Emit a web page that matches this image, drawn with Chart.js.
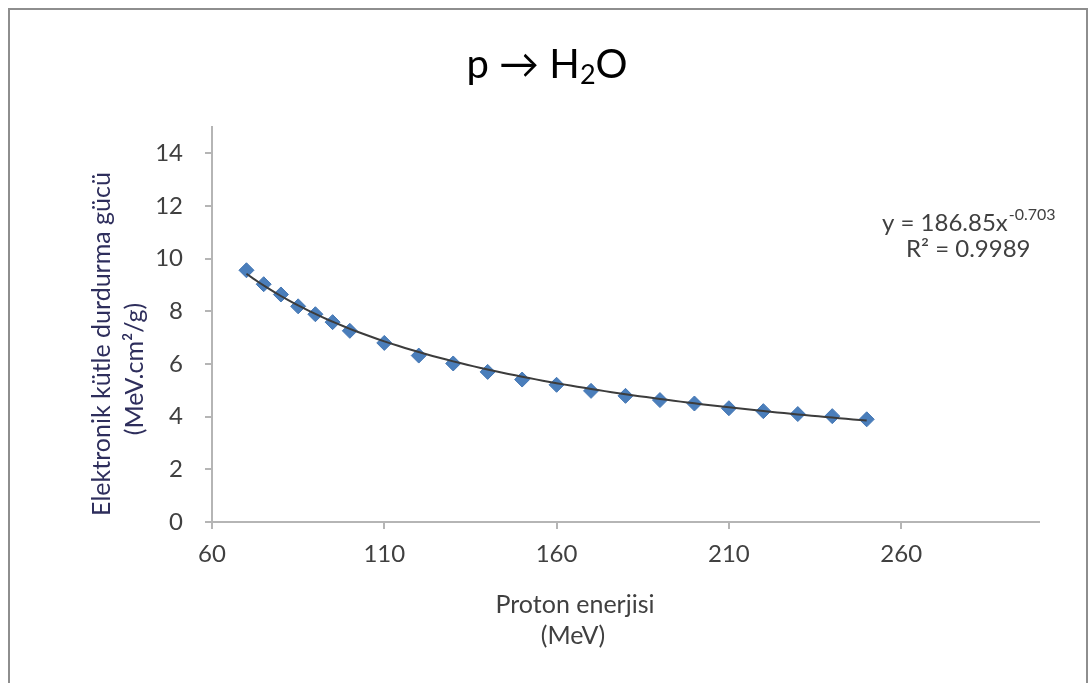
<!DOCTYPE html>
<html>
<head>
<meta charset="utf-8">
<script src="https://cdn.jsdelivr.net/npm/chart.js@4/dist/chart.umd.min.js"></script>
<style>
  html, body { margin: 0; padding: 0; background: #ffffff; }
  #wrap { position: absolute; left: 0; top: 0; width: 1090px; height: 683px; }
  canvas { display: block; }
</style>
</head>
<body>
<div id="wrap"><canvas id="chart" width="1090" height="683"></canvas></div>
<script>
// Proton energy (MeV) and electronic mass stopping power in water (MeV.cm2/g)
const energies = [70, 75, 80, 85, 90, 95, 100, 110, 120, 130, 140, 150, 160, 170, 180, 190, 200, 210, 220, 230, 240, 250];
const stoppingPower = [9.56, 9.03, 8.64, 8.19, 7.89, 7.59, 7.26, 6.80, 6.32, 6.02, 5.70, 5.41, 5.21, 4.98, 4.79, 4.63, 4.50, 4.32, 4.21, 4.10, 4.02, 3.90];

// Axis tick values
const xTicks = [60, 110, 160, 210, 260];
const yTicks = [0, 2, 4, 6, 8, 10, 12, 14];

// Power-law trendline y = A * x^B, as printed next to the curve
const fitA = 186.85;
const fitB = -0.703;
const fitR2 = '0.9989';

// Sample the printed trendline across the data range
const trendPoints = [];
for (let e = energies[0]; e <= energies[energies.length - 1]; e += 2) {
  trendPoints.push({ x: e, y: fitA * Math.pow(e, fitB) });
}

const FONT = 'Lato, "DejaVu Sans", sans-serif';
const GREY_TEXT = '#404040';
const AXIS_GREY = '#b5b5b5';

// Frame, title, axis titles and the trendline equation
const annotations = {
  id: 'annotations',
  beforeDraw(chart) {
    const ctx = chart.ctx;
    ctx.save();
    ctx.fillStyle = '#ffffff';
    ctx.fillRect(0, 0, chart.width, chart.height);
    ctx.strokeStyle = '#8e8e8e';
    ctx.lineWidth = 2;
    ctx.strokeRect(9, 9, 1078, 700);
    ctx.restore();
  },
  afterDraw(chart) {
    const ctx = chart.ctx;
    ctx.save();

    // Title: p → H2O
    ctx.fillStyle = '#000000';
    ctx.textBaseline = 'alphabetic';
    ctx.textAlign = 'left';
    const big = '40px ' + FONT, small = '27px ' + FONT;
    ctx.font = big;
    const partA = 'p \u2192 H';
    const wA = ctx.measureText(partA).width;
    const wO = ctx.measureText('O').width;
    ctx.font = small;
    const w2 = ctx.measureText('2').width;
    let x = 547 - (wA + w2 + wO) / 2;
    ctx.font = big;
    ctx.fillText(partA, x, 78);
    x += wA;
    ctx.font = small;
    ctx.fillText('2', x, 84);
    x += w2;
    ctx.font = big;
    ctx.fillText('O', x, 78);

    // X axis title
    ctx.fillStyle = GREY_TEXT;
    ctx.font = '25px ' + FONT;
    ctx.textAlign = 'center';
    ctx.textBaseline = 'middle';
    ctx.fillText('Proton enerjisi', 575, 605);
    ctx.fillText('(MeV)', 573, 636);

    // Y axis title (rotated)
    ctx.fillStyle = '#2e2e5c';
    ctx.save();
    ctx.translate(102, 344);
    ctx.rotate(-Math.PI / 2);
    ctx.fillText('Elektronik kütle durdurma gücü', 0, 0);
    ctx.restore();
    ctx.save();
    ctx.translate(135, 369);
    ctx.rotate(-Math.PI / 2);
    ctx.fillText('(MeV.cm\u00B2/g)', 0, 0);
    ctx.restore();

    // Trendline equation and R²
    ctx.fillStyle = GREY_TEXT;
    ctx.textAlign = 'left';
    ctx.textBaseline = 'alphabetic';
    ctx.font = '24px ' + FONT;
    const eq = 'y = ' + fitA.toFixed(2) + 'x';
    ctx.fillText(eq, 882, 231);
    const wEq = ctx.measureText(eq).width;
    ctx.font = '16px ' + FONT;
    ctx.fillText(String(fitB), 882 + wEq + 1, 220);
    ctx.font = '24px ' + FONT;
    ctx.fillText('R\u00B2 = ' + fitR2, 906, 257);

    ctx.restore();
  }
};

new Chart(document.getElementById('chart'), {
  type: 'scatter',
  data: {
    datasets: [
      {
        label: 'Trend',
        data: trendPoints,
        showLine: true,
        borderColor: '#3c3c3c',
        borderWidth: 2,
        pointRadius: 0,
        fill: false,
        order: 0
      },
      {
        label: 'p → H2O',
        data: energies.map((e, i) => ({ x: e, y: stoppingPower[i] })),
        showLine: false,
        pointStyle: 'rectRot',
        pointRadius: 7.5,
        backgroundColor: '#4a7ebb',
        borderColor: '#4376b4',
        borderWidth: 1,
        order: 1
      }
    ]
  },
  options: {
    responsive: false,
    animation: false,
    devicePixelRatio: 1,
    layout: { padding: { top: 127, right: 51, bottom: 0, left: 0 } },
    plugins: {
      legend: { display: false },
      title: { display: false },
      tooltip: { enabled: false }
    },
    scales: {
      x: {
        type: 'linear',
        min: 60,
        max: 300,
        afterBuildTicks(scale) { scale.ticks = xTicks.map(v => ({ value: v })); },
        afterFit(scale) { scale.height = 683 - 522; },
        border: { display: true, color: AXIS_GREY, width: 2 },
        grid: { drawOnChartArea: false, drawTicks: true, tickLength: 7, color: AXIS_GREY, lineWidth: 2 },
        ticks: { color: GREY_TEXT, font: { family: FONT, size: 24 }, padding: 11, maxRotation: 0 }
      },
      y: {
        type: 'linear',
        min: 0,
        max: 15,
        afterBuildTicks(scale) { scale.ticks = yTicks.map(v => ({ value: v })); },
        afterFit(scale) { scale.width = 212; },
        border: { display: true, color: AXIS_GREY, width: 2 },
        grid: { drawOnChartArea: false, drawTicks: true, tickLength: 7, color: AXIS_GREY, lineWidth: 2 },
        ticks: { color: GREY_TEXT, font: { family: FONT, size: 24 }, padding: 22 }
      }
    }
  },
  plugins: [annotations]
});
</script>
</body>
</html>
